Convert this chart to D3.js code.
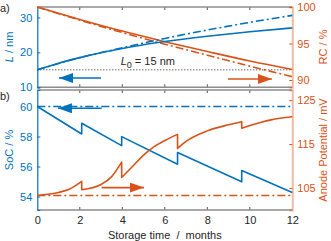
<!DOCTYPE html>
<html>
<head>
<meta charset="utf-8">
<script src="https://d3js.org/d3.v7.min.js"></script>
<style>
    body { margin: 0; background: #fff; }
    text { font-family: "Liberation Sans", Arial, sans-serif; font-size: 11px; }
</style>
</head>
<body>
<div id="chart"></div>
<script>
    var months = [0, 2, 4, 6, 8, 10, 12];

    // panel a)
    var lTicks = [10, 20, 30];
    var rcTicks = [90, 95, 100];
    var lSolid = [[0,15],[1,16.9],[2,18.5],[3,19.9],[4,21.1],[5,22.2],[6,23.1],[8,24.6],[10,25.9],[12,27.0]];
    var lDash  = [[0,15],[2,18.5],[4,21.3],[6,24.0],[8,26.4],[10,28.6],[12,30.6]];
    var rcSolid = [[0,100],[2,98.3],[4,96.7],[6,95.25],[8,93.9],[10,92.6],[12,91.45]];
    var rcDash  = [[0,100],[2,98.2],[4,96.5],[6,94.9],[8,93.4],[10,91.9],[12,90.45]];
    var L0 = 15;

    // panel b)
    var socTicks = [54, 56, 58, 60];
    var potTicks = [105, 115, 125];
    var socSegs = [
        [[0,60],[2.09,58.17]],
        [[2.09,58.88],[3.97,57.39]],
        [[3.97,57.99],[6.6,56.15]],
        [[6.6,56.93],[9.62,54.99]],
        [[9.62,55.73],[12,54.26]]
    ];
    var potSegs = [
        [[0,103.3],[0.5,103.6],[1,104.0],[1.5,104.7],[2.09,106.5]],
        [[2.09,104.6],[3,105.8],[3.5,107.6],[3.97,110.9]],
        [[3.97,107.4],[4.5,110.0],[5,112.5],[5.5,114.4],[6,115.8],[6.6,117.2]],
        [[6.6,114.0],[7,115.6],[8,118.0],[9,119.4],[9.62,120.1]],
        [[9.62,118.6],[10.5,119.9],[11,120.5],[12,121.2]]
    ];
    var socRef = 60;
    var potRef = 103.3;

    // arrows: [from t, to t, value]
    var arrowL   = [3.0, 1.02, 12.67];
    var arrowRC  = [8.97, 11.04, 90.14];
    var arrowSoC = [3.03, 0.97, 59.88];
    var arrowPot = [3.03, 5.02, 105.1];

    var blue = "#0072BD", orange = "#D95319", grey = "#8c8c8c", ink = "#262626";
    var W = 331, H = 241;
    var x0 = 37.3, x1 = 292.3;

    var svg = d3.select("#chart").append("svg").attr("width", W).attr("height", H);

    var x = d3.scaleLinear().domain([0, 12]).range([x0, x1]);
    var yL = d3.scaleLinear().domain([10, 33]).range([87.3, 7]);
    var yRC = d3.scaleLinear().domain([89, 100]).range([87.3, 7]);
    var ySoC = d3.scaleLinear().domain([53.1, 61.1]).range([210, 90]);
    var yPot = d3.scaleLinear().domain([100, 127.3]).range([210, 90]);

    svg.append("defs").selectAll("marker")
        .data([["headBlue", blue], ["headOrange", orange]])
        .join("marker")
        .attr("id", d => d[0])
        .attr("viewBox", "0 0 14 10")
        .attr("refX", 14).attr("refY", 5)
        .attr("markerWidth", 14).attr("markerHeight", 10)
        .attr("markerUnits", "userSpaceOnUse")
        .attr("orient", "auto")
        .append("path")
        .attr("d", "M0,0 L14,5 L0,10 Z")
        .attr("fill", d => d[1]);

    function panel(yLeft, yRight, leftTicks, rightTicks) {
        var g = svg.append("g");
        var top = yLeft.range()[1], bot = yLeft.range()[0];
        // x ticks top and bottom, inward
        months.slice(1, -1).forEach(function (m) {
            g.append("line").attr("x1", x(m)).attr("x2", x(m)).attr("y1", bot).attr("y2", bot - 3)
                .attr("stroke", ink).attr("stroke-width", 0.8);
            g.append("line").attr("x1", x(m)).attr("x2", x(m)).attr("y1", top).attr("y2", top + 3)
                .attr("stroke", ink).attr("stroke-width", 0.8);
        });
        g.append("line").attr("x1", x0).attr("x2", x1).attr("y1", bot).attr("y2", bot)
            .attr("stroke", grey).attr("stroke-width", 1.5);
        g.append("line").attr("x1", x0).attr("x2", x1).attr("y1", top).attr("y2", top)
            .attr("stroke", grey).attr("stroke-width", 1.5);

        var left = d3.axisLeft(yLeft).tickValues(leftTicks).tickSize(-3).tickPadding(5);
        var gl = g.append("g").attr("transform", "translate(" + x0 + ",0)").call(left);
        gl.select(".domain").attr("stroke", blue).attr("stroke-width", 1.2);
        gl.selectAll(".tick line").attr("stroke", blue);
        gl.selectAll("text").attr("fill", blue).style("font-size", "11px");

        var right = d3.axisRight(yRight).tickValues(rightTicks).tickSize(-3).tickPadding(5);
        var gr = g.append("g").attr("transform", "translate(" + x1 + ",0)").call(right);
        gr.select(".domain").attr("stroke", orange).attr("stroke-opacity", 0.4).attr("stroke-width", 2);
        gr.selectAll(".tick line").attr("stroke", orange);
        gr.selectAll("text").attr("fill", orange).style("font-size", "11px");
        return g;
    }

    panel(yL, yRC, lTicks, rcTicks);
    panel(ySoC, yPot, socTicks, potTicks);

    // bottom x labels
    var gx = svg.append("g").attr("transform", "translate(0,210)")
        .call(d3.axisBottom(x).tickValues(months).tickSize(0).tickPadding(6));
    gx.select(".domain").remove();
    gx.selectAll("text").attr("fill", ink).style("font-size", "11px");

    var lineOf = function (ys) { return d3.line().x(d => x(d[0])).y(d => ys(d[1])); };
    var smoothOf = function (ys) { return d3.line().x(d => x(d[0])).y(d => ys(d[1])).curve(d3.curveMonotoneX); };
    var dashdot = "8,3,2,3";

    // panel a) curves
    svg.append("line").attr("x1", x(0)).attr("x2", x(12)).attr("y1", yL(L0)).attr("y2", yL(L0))
        .attr("stroke", ink).attr("stroke-width", 1).attr("stroke-dasharray", "1,2");
    svg.append("path").attr("d", smoothOf(yRC)(rcDash)).attr("fill", "none")
        .attr("stroke", orange).attr("stroke-width", 1.6).attr("stroke-dasharray", dashdot);
    svg.append("path").attr("d", smoothOf(yRC)(rcSolid)).attr("fill", "none")
        .attr("stroke", orange).attr("stroke-width", 1.6);
    svg.append("path").attr("d", smoothOf(yL)(lDash)).attr("fill", "none")
        .attr("stroke", blue).attr("stroke-width", 1.6).attr("stroke-dasharray", dashdot);
    svg.append("path").attr("d", smoothOf(yL)(lSolid)).attr("fill", "none")
        .attr("stroke", blue).attr("stroke-width", 1.6);

    var t0 = svg.append("text").attr("x", x(5.2)).attr("y", yL(L0) - 5).attr("fill", ink)
        .attr("text-anchor", "middle");
    t0.append("tspan").attr("font-style", "italic").text("L");
    t0.append("tspan").attr("dy", 3).style("font-size", "9px").text("0");
    t0.append("tspan").attr("dy", -3).text(" = 15 nm");

    // panel b) curves
    svg.append("line").attr("x1", x(0)).attr("x2", x(12)).attr("y1", ySoC(socRef)).attr("y2", ySoC(socRef))
        .attr("stroke", blue).attr("stroke-width", 1.6).attr("stroke-dasharray", dashdot);
    svg.append("line").attr("x1", x(0)).attr("x2", x(12)).attr("y1", yPot(potRef)).attr("y2", yPot(potRef))
        .attr("stroke", orange).attr("stroke-width", 1.6).attr("stroke-dasharray", dashdot);

    function joined(segs, gen) {
        return segs.map((s, i) => i === 0 ? gen(s) : gen(s).replace(/^M/, "L")).join("");
    }
    svg.append("path").attr("d", joined(socSegs, lineOf(ySoC))).attr("fill", "none")
        .attr("stroke", blue).attr("stroke-width", 1.6).attr("stroke-linejoin", "round");
    svg.append("path").attr("d", joined(potSegs, smoothOf(yPot))).attr("fill", "none")
        .attr("stroke", orange).attr("stroke-width", 1.6).attr("stroke-linejoin", "round");

    // arrows
    [[arrowL, yL, blue, "headBlue"], [arrowRC, yRC, orange, "headOrange"],
     [arrowSoC, ySoC, blue, "headBlue"], [arrowPot, yPot, orange, "headOrange"]].forEach(function (a) {
        svg.append("line")
            .attr("x1", x(a[0][0])).attr("x2", x(a[0][1]))
            .attr("y1", a[1](a[0][2])).attr("y2", a[1](a[0][2]))
            .attr("stroke", a[2]).attr("stroke-width", 1.6)
            .attr("marker-end", "url(#" + a[3] + ")");
    });

    // axis titles
    var tL = svg.append("text").attr("transform", "translate(13,47) rotate(-90)")
        .attr("text-anchor", "middle").attr("fill", blue);
    tL.append("tspan").attr("font-style", "italic").text("L");
    tL.append("tspan").text(" / nm");
    svg.append("text").attr("transform", "translate(13,150) rotate(-90)")
        .attr("text-anchor", "middle").attr("fill", blue).text("SoC / %");
    svg.append("text").attr("transform", "translate(327,47) rotate(-90)")
        .attr("text-anchor", "middle").attr("fill", orange).text("RC / %");
    svg.append("text").attr("transform", "translate(327,150) rotate(-90)")
        .attr("text-anchor", "middle").attr("fill", orange).text("Anode Potential / mV");
    svg.append("text").attr("x", x(6)).attr("y", 239).attr("text-anchor", "middle")
        .attr("fill", ink).attr("xml:space", "preserve").text("Storage time  /  months");

    svg.append("text").attr("x", 0).attr("y", 12).attr("fill", ink).text("a)");
    svg.append("text").attr("x", 0).attr("y", 100).attr("fill", ink).text("b)");
</script>
</body>
</html>
